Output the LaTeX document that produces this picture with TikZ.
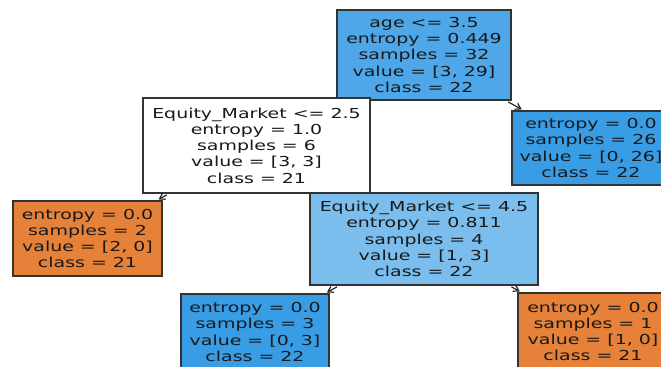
\documentclass[tikz,border=0pt]{standalone}
\usepackage{fontspec}
\newfontfamily\treefont[FakeStretch=1.38]{DejaVu Sans}
\usepackage{tikz}
\usetikzlibrary{arrows.meta}
\definecolor{leafblue}{HTML}{399DE5}
\definecolor{rootblue}{HTML}{4DA7E8}
\definecolor{midblue}{HTML}{7BBEEE}
\definecolor{leaforange}{HTML}{E58139}
\tikzset{
  tnode/.style ={draw=black!80,line width=0.9pt,align=center,inner sep=2pt,
                 font=\treefont\fontsize{10.3}{12.2}\selectfont,text=black!90},
  blu/.style   ={tnode,fill=leafblue},
  org/.style   ={tnode,fill=leaforange},
  edge/.style  ={-{Straight Barb[length=4pt,width=5pt]},line width=0.9pt,black!85,
                 shorten <=2pt,shorten >=1.5pt},
}

\begin{document}
\begin{tikzpicture}[x=0.75pt,y=-0.75pt]
  \useasboundingbox (0,0) rectangle (661,367);
  % split nodes
  \node[tnode,fill=rootblue,minimum width=130.5pt,minimum height=67.5pt] (root) at (424,55)
       {age <= 3.5\\entropy = 0.449\\samples = 32\\value = [3, 29]\\class = 22};
  \node[tnode,fill=white,minimum width=170.25pt,minimum height=71.25pt] (eqa) at (256.5,145.5)
       {Equity\_Market <= 2.5\\entropy = 1.0\\samples = 6\\value = [3, 3]\\class = 21};
  \node[blu,minimum width=118.5pt,minimum height=55.5pt] (leafr) at (591,148)
       {entropy = 0.0\\samples = 26\\value = [0, 26]\\class = 22};
  \node[org,minimum width=111.75pt,minimum height=56.25pt] (leafl) at (87.5,238.5)
       {entropy = 0.0\\samples = 2\\value = [2, 0]\\class = 21};
  \node[tnode,fill=midblue,minimum width=171pt,minimum height=69pt] (eqb) at (424,239)
       {Equity\_Market <= 4.5\\entropy = 0.811\\samples = 4\\value = [1, 3]\\class = 22};
  % bottom leaves
  \node[blu,minimum width=111pt,minimum height=57pt] (leafc) at (255,332)
       {entropy = 0.0\\samples = 3\\value = [0, 3]\\class = 22};
  \node[org,minimum width=112.5pt,minimum height=57.75pt] (leafd) at (593,331.5)
       {entropy = 0.0\\samples = 1\\value = [1, 0]\\class = 21};
  % edges
  \draw[edge] (root) -- (leafr);
  \draw[edge] (eqa) -- (leafl);
  \draw[edge] (eqb) -- (leafc);
  \draw[edge] (eqb) -- (leafd);
\end{tikzpicture}
\end{document}
